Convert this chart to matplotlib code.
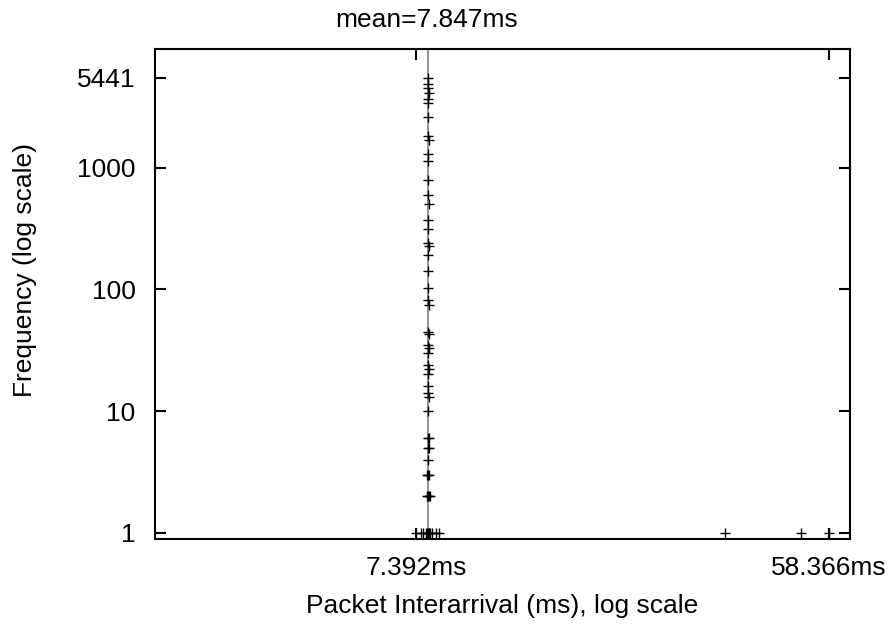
import numpy as np
import matplotlib.pyplot as plt

plt.rcParams['font.family'] = ['Liberation Sans', 'DejaVu Sans']

mean_ms = 7.847
xtick_vals = [7.392, 58.366]
xtick_labels = ['7.392ms', '58.366ms']
ytick_vals = [1, 10, 100, 1000, 5441]
ytick_labels = ['1', '10', '100', '1000', '5441']

# main column of the histogram (interarrival ~7.85ms)
col_freq = [5441, 4900, 4470, 4100, 3640, 3410, 2620, 1830, 1700, 1290, 1140,
            787, 590, 500, 370, 312, 238, 228, 192, 142, 102, 82, 75, 45, 43,
            35, 33, 30, 24, 22, 20, 16, 14, 13, 10, 6, 6, 5, 5, 4, 3, 3, 3,
            2, 2, 2, 2]
col_x = [7.84, 7.85, 7.84, 7.86, 7.85, 7.84, 7.85, 7.84, 7.86, 7.85, 7.84,
         7.85, 7.84, 7.86, 7.85, 7.84, 7.83, 7.86, 7.85, 7.84, 7.85, 7.84,
         7.86, 7.83, 7.86, 7.84, 7.86, 7.85, 7.83, 7.86, 7.85, 7.84, 7.83,
         7.86, 7.85, 7.83, 7.87, 7.82, 7.87, 7.85, 7.81, 7.85, 7.89, 7.80,
         7.84, 7.86, 7.90]

# single occurrences
ones_x = [7.40, 7.57, 7.66, 7.77, 7.80, 7.83, 7.86, 7.88, 7.92, 7.98, 8.16,
          8.30, 34.7, 50.6, 58.366]
ones_freq = [1] * len(ones_x)

fig = plt.figure(figsize=(8.93, 6.29), dpi=100)
ax = fig.add_axes([0.1736, 0.143, 0.7784, 0.779])

ax.axvline(mean_ms, color='#808080', lw=1.2, zorder=1)
ax.plot(col_x, col_freq, '+', color='black', ms=7, mew=1.0, zorder=2)
ax.plot(ones_x, ones_freq, '+', color='black', ms=7, mew=1.0, zorder=2)

ax.set_xscale('log')
ax.set_yscale('log')
ax.set_xlim(2.0, 64.8)
ax.set_ylim(0.89, 9400)

ax.set_xticks(xtick_vals)
ax.set_xticklabels(xtick_labels)
ax.set_yticks(ytick_vals)
ax.set_yticklabels(ytick_labels)
ax.minorticks_off()
ax.tick_params(which='both', direction='in', top=True, right=True,
               length=8, width=1.5, labelsize=19)
ax.tick_params(axis='x', pad=12)
ax.tick_params(axis='y', pad=14)
for s in ax.spines.values():
    s.set_linewidth(1.5)

ax.set_xlabel('Packet Interarrival (ms), log scale', fontsize=19, labelpad=10)
fig.text(0.478, 0.968, 'mean=7.847ms', ha='center', va='center', fontsize=19)
fig.text(0.028, 0.57, 'Frequency (log scale)', ha='center', va='center',
         rotation=90, fontsize=19)

fig.savefig('out.png', dpi=100)
